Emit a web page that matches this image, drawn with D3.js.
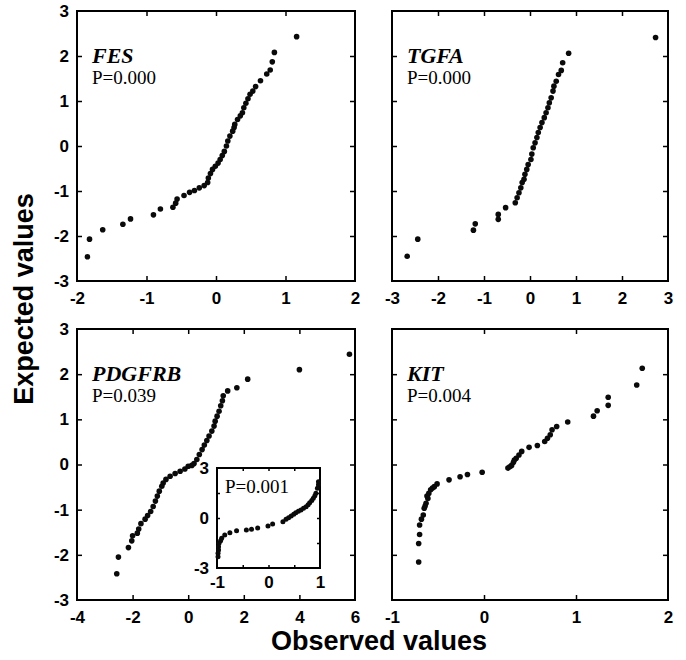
<!DOCTYPE html>
<html><head><meta charset="utf-8">
<script src="https://cdn.jsdelivr.net/npm/d3@7/dist/d3.min.js"></script>
<style>
html,body{margin:0;padding:0;background:#fff;}
svg{display:block;}
.tick line{stroke:#000;stroke-width:1.5;}
</style></head>
<body><svg id="chart" width="686" height="660"></svg>
<script>
// ---------------- data ----------------
const yTickValues = [-3, -2, -1, 0, 1, 2, 3];
const fesXTicks = [-2, -1, 0, 1, 2];
const tgfaXTicks = [-3, -2, -1, 0, 1, 2, 3];
const pdgfrbXTicks = [-4, -2, 0, 2, 4, 6];
const kitXTicks = [-1, 0, 1, 2];
const insetXTicks = [-1, 0, 1];
const insetYTicks = [-3, 0, 3];

const geneNames = ["FES", "TGFA", "PDGFRB", "KIT"];
const pValues = ["P=0.000", "P=0.000", "P=0.039", "P=0.004"];
const insetP = "P=0.001";

// [observed, expected]
const fesPoints = [
  [1.16,2.43],[0.84,2.08],[0.81,1.87],[0.78,1.69],[0.73,1.60],[0.64,1.45],[0.57,1.32],
  [0.53,1.22],[0.49,1.15],[0.46,1.05],[0.43,0.95],[0.40,0.85],[0.38,0.74],[0.35,0.67],
  [0.31,0.59],[0.27,0.48],[0.26,0.41],[0.24,0.33],[0.20,0.22],[0.17,0.11],[0.15,0.00],
  [0.12,-0.12],[0.09,-0.21],[0.06,-0.30],[0.03,-0.38],[-0.01,-0.45],[-0.05,-0.52],
  [-0.08,-0.61],[-0.11,-0.71],[-0.12,-0.81],[-0.17,-0.88],[-0.24,-0.93],[-0.31,-0.99],
  [-0.38,-1.03],[-0.46,-1.10],[-0.56,-1.18],[-0.58,-1.27],[-0.62,-1.36],[-0.80,-1.40],
  [-0.90,-1.53],[-1.23,-1.62],[-1.34,-1.74],[-1.63,-1.86],[-1.82,-2.07],[-1.85,-2.46]
];
const tgfaPoints = [
  [2.73,2.41],[0.84,2.06],[0.71,1.85],[0.68,1.68],[0.62,1.59],[0.57,1.44],[0.52,1.33],
  [0.50,1.22],[0.46,1.07],[0.42,0.96],[0.39,0.85],[0.35,0.74],[0.31,0.63],[0.26,0.52],
  [0.22,0.41],[0.18,0.30],[0.15,0.19],[0.11,0.07],[0.07,-0.04],[0.04,-0.18],[0.02,-0.30],
  [-0.04,-0.41],[-0.07,-0.52],[-0.11,-0.63],[-0.13,-0.74],[-0.17,-0.81],[-0.20,-0.93],
  [-0.24,-1.04],[-0.28,-1.15],[-0.32,-1.26],[-0.53,-1.37],[-0.69,-1.52],[-0.69,-1.63],
  [-1.19,-1.73],[-1.23,-1.87],[-2.44,-2.07],[-2.67,-2.45]
];
const pdgfrbPoints = [
  [5.80,2.44],[4.00,2.10],[2.14,1.89],[1.75,1.70],[1.42,1.63],[1.26,1.52],[1.23,1.41],
  [1.17,1.30],[1.11,1.18],[1.04,1.07],[0.97,0.96],[0.93,0.85],[0.85,0.74],[0.75,0.63],
  [0.67,0.53],[0.58,0.43],[0.50,0.33],[0.40,0.22],[0.31,0.11],[0.21,0.02],[0.13,-0.02],
  [0.00,-0.04],[-0.12,-0.10],[-0.29,-0.15],[-0.47,-0.20],[-0.65,-0.26],[-0.80,-0.33],
  [-0.90,-0.41],[-0.95,-0.48],[-1.04,-0.59],[-1.11,-0.70],[-1.18,-0.81],[-1.26,-0.93],
  [-1.35,-1.04],[-1.46,-1.13],[-1.55,-1.21],[-1.70,-1.31],[-1.78,-1.43],[-1.83,-1.52],
  [-2.00,-1.58],[-2.03,-1.69],[-2.15,-1.84],[-2.51,-2.05],[-2.57,-2.42]
];
const insetPoints = [
  [0.97,2.18],[0.97,2.00],[0.95,1.78],[0.92,1.48],[0.90,1.33],[0.87,1.18],[0.84,1.05],
  [0.80,0.92],[0.77,0.80],[0.73,0.68],[0.68,0.58],[0.63,0.48],[0.58,0.40],[0.53,0.32],
  [0.49,0.22],[0.44,0.12],[0.39,0.02],[0.34,-0.08],[0.28,-0.22],[0.08,-0.36],[-0.01,-0.48],
  [-0.21,-0.60],[-0.33,-0.68],[-0.43,-0.72],[-0.62,-0.76],[-0.75,-0.88],[-0.85,-1.02],
  [-0.91,-1.22],[-0.93,-1.37],[-0.96,-1.52],[-0.97,-1.72],[-0.97,-1.92],[-0.98,-2.12],[-0.98,-2.32]
];
const kitPoints = [
  [1.72,2.13],[1.66,1.76],[1.35,1.49],[1.35,1.31],[1.23,1.19],[1.19,1.07],[0.91,0.94],
  [0.79,0.84],[0.74,0.77],[0.72,0.66],[0.69,0.58],[0.66,0.51],[0.58,0.42],[0.49,0.38],
  [0.41,0.29],[0.38,0.21],[0.35,0.14],[0.33,0.10],[0.32,0.05],[0.30,-0.02],[0.28,-0.05],
  [0.26,-0.08],[-0.02,-0.17],[-0.18,-0.22],[-0.26,-0.27],[-0.38,-0.34],[-0.51,-0.43],
  [-0.54,-0.49],[-0.56,-0.52],[-0.58,-0.56],[-0.60,-0.64],[-0.62,-0.70],[-0.61,-0.75],
  [-0.63,-0.86],[-0.64,-0.92],[-0.65,-0.97],[-0.66,-1.12],[-0.68,-1.21],[-0.70,-1.34],
  [-0.70,-1.55],[-0.71,-1.75],[-0.71,-2.16]
];

// ---------------- drawing ----------------
const svg = d3.select("#chart");
const fmt = d => String(d);
const SANS = "'Liberation Sans',Arial,Helvetica,sans-serif";
const SERIF = "'Liberation Serif','Times New Roman',serif";

function styleLabels(sel, size) {
  sel.attr("font-family", SANS).attr("font-size", size).attr("font-weight", "bold");
  sel.selectAll("text").attr("fill", "#000").style("font-family", SANS)
    .style("font-size", size + "px").style("font-weight", "bold");
}

function drawAxes(g, x, y, box, xTicks, showY, tick, pad) {
  const inner = v => v > x.domain()[0] && v < x.domain()[1];
  const innerY = v => v > y.domain()[0] && v < y.domain()[1];
  const b = g.append("g").attr("transform", `translate(0,${box.bottom})`)
    .call(d3.axisBottom(x).tickValues(xTicks).tickSize(-tick).tickPadding(pad.x).tickFormat(fmt));
  b.select(".domain").remove();
  b.selectAll(".tick").filter(d => !inner(d)).select("line").remove();
  styleLabels(b, 17);
  const t = g.append("g").attr("transform", `translate(0,${box.top})`)
    .call(d3.axisTop(x).tickValues(xTicks.filter(inner)).tickSize(-tick).tickFormat(""));
  t.select(".domain").remove();
  const l = g.append("g").attr("transform", `translate(${box.left},0)`)
    .call(d3.axisLeft(y).tickValues(box.yTicks).tickSize(-tick).tickPadding(pad.y)
      .tickFormat(showY ? fmt : ""));
  l.select(".domain").remove();
  l.selectAll(".tick").filter(d => !innerY(d)).select("line").remove();
  styleLabels(l, 17);
  const r = g.append("g").attr("transform", `translate(${box.right},0)`)
    .call(d3.axisRight(y).tickValues(box.yTicks.filter(innerY)).tickSize(-tick).tickFormat(""));
  r.select(".domain").remove();
  g.append("rect").attr("x", box.left).attr("y", box.top)
    .attr("width", box.right - box.left).attr("height", box.bottom - box.top)
    .attr("fill", "none").attr("stroke", "#000").attr("stroke-width", 2);
}

function panel(box, xDomain, xTicks, points, name, pText, showY) {
  const g = svg.append("g");
  const x = d3.scaleLinear().domain(xDomain).range([box.left, box.right]);
  const y = d3.scaleLinear().domain([-3, 3]).range([box.bottom, box.top]);
  drawAxes(g, x, y, Object.assign({yTicks: yTickValues}, box), xTicks, showY, 5, {x: 11, y: 8});
  g.append("g").selectAll("circle").data(points).join("circle")
    .attr("cx", d => x(d[0])).attr("cy", d => y(d[1])).attr("r", 2.8).attr("fill", "#0a0a0a");
  g.append("text").attr("x", box.left + 15).attr("y", box.top + 52)
    .attr("font-family", SERIF).attr("font-weight", "bold").attr("font-style", "italic")
    .attr("font-size", 22).text(name);
  g.append("text").attr("x", box.left + 15).attr("y", box.top + 73)
    .attr("font-family", SERIF).attr("font-size", 19).text(pText);
  return g;
}

const boxes = [
  {left: 77, right: 355, top: 11, bottom: 281},
  {left: 392, right: 668, top: 11, bottom: 281},
  {left: 77, right: 355, top: 329, bottom: 600},
  {left: 392, right: 668, top: 329, bottom: 600}
];

panel(boxes[0], [-2, 2], fesXTicks, fesPoints, geneNames[0], pValues[0], true);
panel(boxes[1], [-3, 3], tgfaXTicks, tgfaPoints, geneNames[1], pValues[1], false);
panel(boxes[2], [-4, 6], pdgfrbXTicks, pdgfrbPoints, geneNames[2], pValues[2], true);
panel(boxes[3], [-1, 2], kitXTicks, kitPoints, geneNames[3], pValues[3], false);

// inset inside PDGFRB panel
(function () {
  const box = {left: 217, right: 320, top: 468, bottom: 568};
  const g = svg.append("g");
  g.append("rect").attr("x", box.left).attr("y", box.top)
    .attr("width", box.right - box.left).attr("height", box.bottom - box.top).attr("fill", "#fff");
  const x = d3.scaleLinear().domain([-1, 1]).range([box.left, box.right]);
  const y = d3.scaleLinear().domain([-3, 3]).range([box.bottom, box.top]);
  const b = g.append("g").attr("transform", `translate(0,${box.bottom})`)
    .call(d3.axisBottom(x).tickValues(insetXTicks).tickSize(0).tickPadding(8).tickFormat(fmt));
  b.select(".domain").remove();
  styleLabels(b, 17);
  const l = g.append("g").attr("transform", `translate(${box.left},0)`)
    .call(d3.axisLeft(y).tickValues(insetYTicks).tickSize(0).tickPadding(8).tickFormat(fmt));
  l.select(".domain").remove();
  styleLabels(l, 17);
  const xm = [-0.5, 0, 0.5], ym = [-1.5, 0, 1.5];
  [["axisTop", box.top], ["axisBottom", box.bottom]].forEach(([fn, pos]) => {
    const a = g.append("g").attr("transform", `translate(0,${pos})`)
      .call(d3[fn](x).tickValues(xm).tickSize(-3).tickFormat(""));
    a.select(".domain").remove();
  });
  [["axisLeft", box.left], ["axisRight", box.right]].forEach(([fn, pos]) => {
    const a = g.append("g").attr("transform", `translate(${pos},0)`)
      .call(d3[fn](y).tickValues(ym).tickSize(-3).tickFormat(""));
    a.select(".domain").remove();
  });
  g.append("rect").attr("x", box.left).attr("y", box.top)
    .attr("width", box.right - box.left).attr("height", box.bottom - box.top)
    .attr("fill", "none").attr("stroke", "#000").attr("stroke-width", 2);
  g.append("g").selectAll("circle").data(insetPoints).join("circle")
    .attr("cx", d => x(d[0])).attr("cy", d => y(d[1])).attr("r", 2.5).attr("fill", "#0a0a0a");
  g.append("text").attr("x", box.left + 8).attr("y", box.top + 25)
    .attr("font-family", SERIF).attr("font-size", 19).text(insetP);
})();

// axis titles
svg.append("text").attr("transform", "translate(33,299) rotate(-90)")
  .attr("text-anchor", "middle").attr("font-family", SANS)
  .attr("font-weight", "bold").attr("font-size", 27).text("Expected values");
svg.append("text").attr("x", 379).attr("y", 650)
  .attr("text-anchor", "middle").attr("font-family", SANS)
  .attr("font-weight", "bold").attr("font-size", 27).text("Observed values");
</script></body></html>
